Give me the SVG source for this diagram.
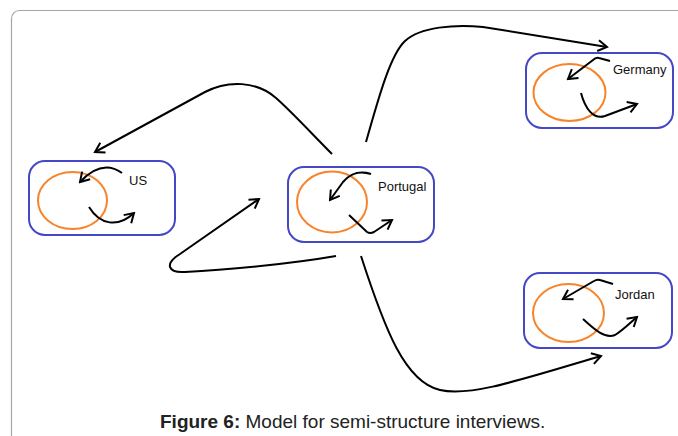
<svg xmlns="http://www.w3.org/2000/svg" width="678" height="436" viewBox="0 0 678 436">
<defs>
<style>
.frame{fill:none;stroke:#a6a6a6;stroke-width:1.2}
.box{fill:none;stroke:#4547c6;stroke-width:2}
.ell{fill:none;stroke:#f7842a;stroke-width:2}
.arr{fill:none;stroke:#000;stroke-width:2;marker-end:url(#ah)}
.lbl{font-family:"Liberation Sans",Arial,sans-serif;font-size:13px;fill:#111}
.cap{font-family:"Liberation Sans",Arial,sans-serif;font-size:19px;fill:#222}
</style>
<marker id="ah" viewBox="-11 -7 13 14" refX="0" refY="0" markerWidth="13" markerHeight="14" markerUnits="userSpaceOnUse" orient="auto">
<path d="M-9,-5.5 L0,0 L-9,5.5" fill="none" stroke="#000" stroke-width="2"/>
</marker>
</defs>
<rect width="678" height="436" fill="#fff"/>
<rect class="frame" x="11.5" y="10.5" width="720" height="500" rx="8"/>
<g id="connectors">
<path class="arr" d="M332,154 C312,134 292,112 276,98 C257,81 228,80 205,92 L95,152"/>
<path class="arr" d="M366,142 C378,100 390,55 405,41 C420,27 455,24 483,27 L607,47"/>
<path class="arr" d="M336,256 C290,264 225,270 185,272 C168,273 164,264 180,254 L259,199"/>
<path class="arr" d="M361,256 C385,330 405,382 440,390 C470,397 520,380 601,356"/>
</g>
<g id="node-us">
<rect class="box" x="29" y="161" width="146" height="74" rx="16"/>
<ellipse class="ell" cx="72.5" cy="200.5" rx="34.5" ry="28.5"/>
<path class="arr" d="M122,173 C108,163 94,167 80,182"/>
<path class="arr" d="M89,207 C100,225 118,228 134,213"/>
<text class="lbl" x="129" y="185">US</text>
</g>
<g id="node-portugal">
<rect class="box" x="288" y="167" width="146" height="75" rx="16"/>
<ellipse class="ell" cx="332" cy="202" rx="35" ry="30.5"/>
<path class="arr" d="M371,174 C358,170 350,174 343,182 L330,200"/>
<path class="arr" d="M349,215 L367,232 Q370,234 374,232 L392,220"/>
<text class="lbl" x="378" y="191">Portugal</text>
</g>
<g id="node-germany">
<rect class="box" x="526" y="53" width="147" height="75" rx="16"/>
<ellipse class="ell" cx="569.5" cy="92.5" rx="36" ry="28.5"/>
<path class="arr" d="M610,61 L599,58 Q596,57 593,60 L568,79"/>
<path class="arr" d="M581,93 C585,108 593,120 605,116 L637,104"/>
<text class="lbl" x="613" y="74">Germany</text>
</g>
<g id="node-jordan">
<rect class="box" x="524" y="273" width="148" height="75" rx="16"/>
<ellipse class="ell" cx="568.5" cy="313" rx="35.5" ry="29"/>
<path class="arr" d="M613,284 L600,280 Q597,279 594,281 L563,299"/>
<path class="arr" d="M583,319 C595,330 605,339 615,335 C622,331 630,323 637,317"/>
<text class="lbl" x="615" y="299">Jordan</text>
</g>
<text class="cap" x="160" y="428"><tspan font-weight="bold">Figure 6:</tspan> Model for semi-structure interviews.</text>
</svg>
